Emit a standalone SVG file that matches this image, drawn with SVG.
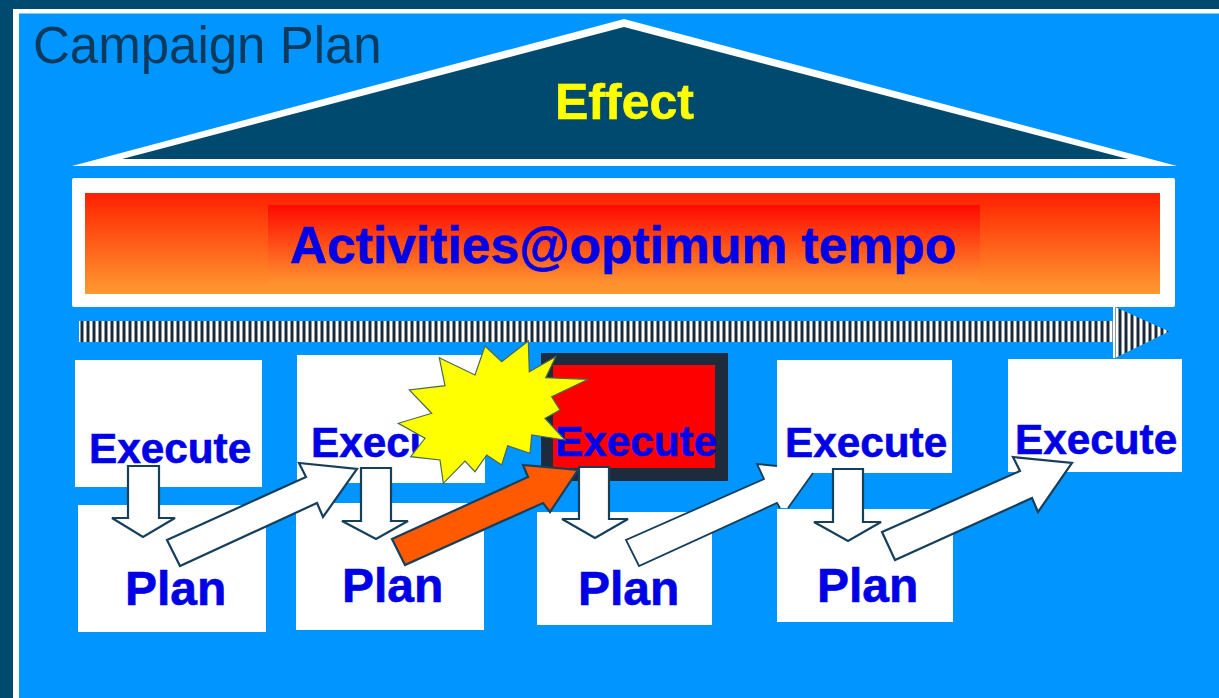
<svg xmlns="http://www.w3.org/2000/svg" width="1219" height="698" viewBox="0 0 1219 698">
<style>
.box{fill:#fff}
.ex{font:bold 42.3px "Liberation Sans",Arial,sans-serif;fill:#0000e6;stroke:#0000e6;stroke-width:.6}
.pl{font:bold 48px "Liberation Sans",Arial,sans-serif;fill:#0000e6;stroke:#0000e6;stroke-width:.6}
.arr{fill:#fff;stroke:#163f5c;stroke-width:2.2;stroke-linejoin:miter;stroke-miterlimit:3}
</style>
<defs>
<linearGradient id="g1" x1="0" y1="0" x2="0" y2="1"><stop offset="0" stop-color="#ff2000"/><stop offset="1" stop-color="#ff9a30"/></linearGradient>
<linearGradient id="g2" x1="0" y1="0" x2="0" y2="1"><stop offset="0" stop-color="#ff0a00"/><stop offset="1" stop-color="#ff9530"/></linearGradient>
<pattern id="st" patternUnits="userSpaceOnUse" x="79" y="0" width="6" height="10"><rect width="6" height="10" fill="#fff"/><rect x="1.500" width="3" height="10" fill="#1a2a3a"/></pattern>
</defs>
<rect width="1219" height="698" fill="#004a70"/>
<rect x="13" y="9" width="1206" height="689" fill="#fff"/>
<rect x="19" y="13.500" width="1200" height="684.500" fill="#0095ff"/>
<text x="33" y="63" font-family="Liberation Sans, Arial, sans-serif" font-size="51" fill="#0b3a5c">Campaign Plan</text>
<g id="effect">
<polygon points="72,166 624,19 1177,166" fill="#fff"/>
<polygon points="122,159 624,27 1128,159" fill="#004a70"/>
<text x="555" y="119" font-family="Liberation Sans, Arial, sans-serif" font-weight="bold" font-size="50" fill="#ffff00" stroke="#ffff00" stroke-width=".6">Effect</text>
</g>
<g id="activities">
<rect x="72" y="178" width="1103" height="129" rx="2" fill="#fff"/>
<rect x="85" y="193" width="1075" height="101" fill="url(#g1)"/>
<rect x="268" y="205" width="712" height="80" fill="url(#g2)"/>
<text x="290" y="263" font-family="Liberation Sans, Arial, sans-serif" font-weight="bold" font-size="51.6" fill="#0000e6" stroke="#0000e6" stroke-width=".6">Activities@optimum tempo</text>
</g>
<g id="timeline">
<polygon points="79,321 1115,321 1115,307 1169,331.500 1115,358 1115,342 79,342" fill="url(#st)"/>
<rect x="1113" y="307" width="2" height="51" fill="#fff"/>
</g>
<g id="execute1"><rect class="box" x="75" y="360" width="187" height="127"/><text class="ex" x="89" y="463">Execute</text></g>
<g id="plan1"><rect class="box" x="78" y="505" width="188" height="127"/><text class="pl" x="125" y="605">Plan</text></g>
<g id="execute2"><rect class="box" x="297" y="355" width="188" height="128"/><text class="ex" x="311" y="457">Execute</text></g>
<g id="plan2"><rect class="box" x="296" y="503" width="188" height="127"/><text class="pl" x="342" y="602">Plan</text></g>
<g id="execute3"><rect x="541" y="353" width="187" height="128" fill="#1c2c3c"/><rect x="553" y="365" width="162" height="103" fill="#ff0000"/><text class="ex" x="555" y="456">Execute</text></g>
<g id="plan3"><rect class="box" x="537" y="512" width="175" height="113"/><text class="pl" x="578" y="605">Plan</text></g>
<g id="execute4"><rect class="box" x="777" y="360" width="175" height="113"/><text class="ex" x="785" y="457">Execute</text></g>
<g id="plan4"><rect class="box" x="777" y="509" width="176" height="113"/><text class="pl" x="817" y="602">Plan</text></g>
<g id="execute5"><rect class="box" x="1008" y="359" width="174" height="113"/><text class="ex" x="1015" y="454">Execute</text></g>
<g id="burst">
<polygon points="528.300,341 529.300,371.700 555.700,356.700 545.700,377.700 588.300,379.300 551.700,396.700 560,410 545,418.300 565,440 531.700,435 530,453.300 507.700,445.700 501.700,465 486.700,455 475,471.700 465,461 443.300,483.300 440,460 410.700,456.700 425,438.300 398.300,423.300 431.700,413.300 409.300,390 445,385.700 439.300,357.700 475,375 485,346 501.700,361.700" fill="#ffff00" stroke="#4a6a50" stroke-width="1.200"/>
</g>
<g id="connectors">
<polygon class="arr" points="128,466 159,466 159,518 175,518 143,537 112,518 128,518"/>
<polygon class="arr" points="361,468 391,468 391,521 408,521 376,539 342,521 361,521"/>
<polygon class="arr" points="579,467 609,467 609,519 628,519 595,538 562,519 579,519"/>
<polygon class="arr" points="833,469 863,469 863,522 881,522 848,541 814,522 833,522"/>
<polygon class="arr" points="167,540 306,477 299,463 357,469 323,517 317,503 180,566"/>
<polygon class="arr" style="fill:#ff5a00" points="392,539 528,477 523,465 578,470 550,512 543,503 405,565"/>
<polygon fill="#fff" points="626,540 764,479 757,464 777,466 777,473 813,473 788,508 780,508 777,503 639,566"/>
<path d="M777,466 L757,464 L764,479 L626,540 L639,566 L777,503 L780,508 M788,508 L813,473" fill="none" stroke="#163f5c" stroke-width="1.800"/>
<polygon class="arr" points="882,532 1020,471 1013,457 1072,463 1038,512 1032,498 895,560"/>
</g>
</svg>
